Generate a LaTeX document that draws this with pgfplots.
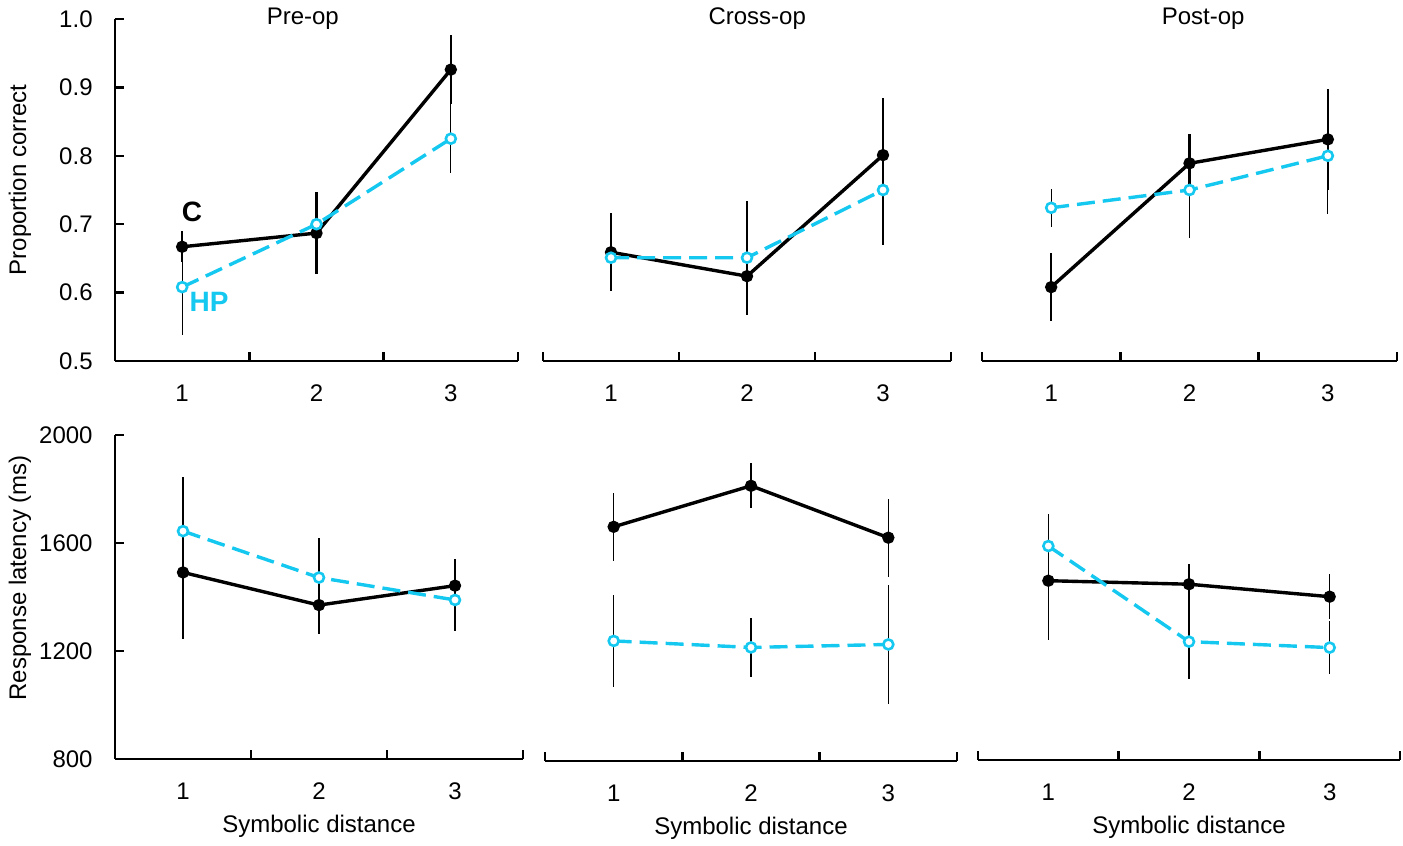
\documentclass[border=0pt]{standalone}
\usepackage{fontspec}
\setmainfont{Liberation Sans}
\usepackage{pgfplots}
\pgfplotsset{compat=1.18}
\definecolor{hpcyan}{RGB}{20,200,240}

\pgfplotsset{
  panel/.style={
    scale only axis, anchor=south west, clip=false,
    xmin=0.5, xmax=3.5, xtick={1,2,3},
    minor xtick={0.5,1.5,2.5,3.5},
    major tick length=0pt, minor tick length=4.5pt,
    tick align=inside,
    axis x line*=bottom,
    axis line style={line width=1.2pt},
    every minor tick/.style={line width=1.2pt, black},
    /pgf/number format/assume math mode=true,
    xticklabel style={anchor=center, yshift=-16pt},
    yticklabel style={anchor=east, inner sep=0pt, xshift=-11pt},
    every axis x label/.style={at={(axis description cs:0.5,0)}, anchor=center, yshift=-33.5pt},
  },
  leftpanel/.style={axis y line*=left},
  otherpanel/.style={hide y axis},
  toprow/.style={ymin=0.5, ymax=1.0, ytick={0.5,0.6,...,1.0}, minor ytick={0.5,0.6,0.7,0.8,0.9,1.0},
    yticklabel style={/pgf/number format/.cd, fixed, fixed zerofill, precision=1}},
  botrow/.style={ymin=800, ymax=2000, ytick={800,1200,1600,2000}, minor ytick={800,1200,1600,2000},
    yticklabel style={/pgf/number format/.cd, 1000 sep={}}},
  cline/.style={black, line width=1.7pt, mark=*, mark size=2.2pt, mark options={solid},
    error bars/.cd, y dir=both, y explicit, error mark=none,
    error bar style={line width=1.3pt, black, solid}},
  cthin/.style={black, line width=1.7pt, mark=*, mark size=2.2pt, mark options={solid},
    error bars/.cd, y dir=both, y explicit, error mark=none,
    error bar style={line width=0.8pt, black, solid}},
  hpline/.style={hpcyan, line width=1.7pt, dash pattern=on 9pt off 4pt,
    mark=*, mark size=2.5pt, mark options={solid, fill=white, draw=hpcyan, line width=1.3pt},
    error bars/.cd, y dir=both, y explicit, error mark=none,
    error bar style={line width=0.6pt, black, solid}},
}

\begin{document}
\begin{tikzpicture}[font=\fontsize{12}{14}\selectfont]
\path[use as bounding box] (0,0) rectangle (701.5pt,423pt);

% ---- top row: proportion correct
\begin{axis}[panel, leftpanel, toprow, at={(57.5pt,242.5pt)}, width=201.5pt, height=171pt,
  ylabel={Proportion correct},
  every axis y label/.style={at={(axis description cs:-0.236,0.53)}, rotate=90, anchor=center}]
\addplot[cline] coordinates {(1,0.667) +- (0,0.023) (2,0.687) +- (0,0.060) (3,0.926) +- (0,0.050)};
\addplot[hpline] coordinates {(1,0.608) +- (0,0.070) (2,0.700) +- (0,0.040) (3,0.825) +- (0,0.050)};
\node at (axis description cs:0.466,1) {Pre-op};
\node[font=\fontsize{14}{15}\selectfont\bfseries] at (axis cs:1.073,0.718) {C};
\node[font=\fontsize{14}{15}\selectfont\bfseries, text=hpcyan] at (axis cs:1.20,0.586) {HP};
\end{axis}

\begin{axis}[panel, otherpanel, toprow, at={(271.5pt,242.5pt)}, width=204pt, height=171pt]
\addplot[cline] coordinates {(1,0.659) +- (0,0.057) (2,0.624) +- (0,0.057) (3,0.801) +- (0,0.083)};
\addplot[hpline] coordinates {(1,0.651) +- (0,0.040) (2,0.651) +- (0,0.083) (3,0.750) +- (0,0.080)};
\node at (axis description cs:0.525,1) {Cross-op};
\end{axis}

\begin{axis}[panel, otherpanel, toprow, at={(491pt,242.5pt)}, width=207.5pt, height=171pt]
\addplot[cline] coordinates {(1,0.608) +- (0,0.050) (2,0.789) +- (0,0.043) (3,0.824) +- (0,0.074)};
\addplot[hpline] coordinates {(1,0.724) +- (0,0.028) (2,0.750) +- (0,0.070) (3,0.800) +- (0,0.085)};
\node at (axis description cs:0.533,1) {Post-op};
\end{axis}

% ---- bottom row: response latency
\begin{axis}[panel, leftpanel, botrow, at={(57.5pt,43.5pt)}, width=204pt, height=162pt,
  xlabel={Symbolic distance}, ylabel={Response latency (ms)},
  every axis y label/.style={at={(axis description cs:-0.233,0.559)}, rotate=90, anchor=center}]
\addplot[cthin] coordinates {(1,1491) +- (0,245) (2,1370) +- (0,108) (3,1442) +- (0,100)};
\addplot[hpline] coordinates {(1,1644) +- (0,200) (2,1472) +- (0,145) (3,1389) +- (0,114)};
\end{axis}

\begin{axis}[panel, otherpanel, botrow, at={(272.5pt,42.5pt)}, width=206pt, height=163pt,
  xlabel={Symbolic distance}]
\addplot[cthin] coordinates {(1,1662) +- (0,125) (2,1813) +- (0,83) (3,1622) +- (0,144)};
\addplot[hpline] coordinates {(1,1242) +- (0,168) (2,1218) +- (0,107) (3,1229) +- (0,220)};
\end{axis}

\begin{axis}[panel, otherpanel, botrow, at={(489pt,43pt)}, width=211pt, height=162.5pt,
  xlabel={Symbolic distance}]
\addplot[cthin] coordinates {(1,1462) +- (0,219) (2,1449) +- (0,74) (3,1403) +- (0,84)};
\addplot[hpline] coordinates {(1,1590) +- (0,118) (2,1237) +- (0,139) (3,1215) +- (0,97)};
\end{axis}
\end{tikzpicture}
\end{document}
